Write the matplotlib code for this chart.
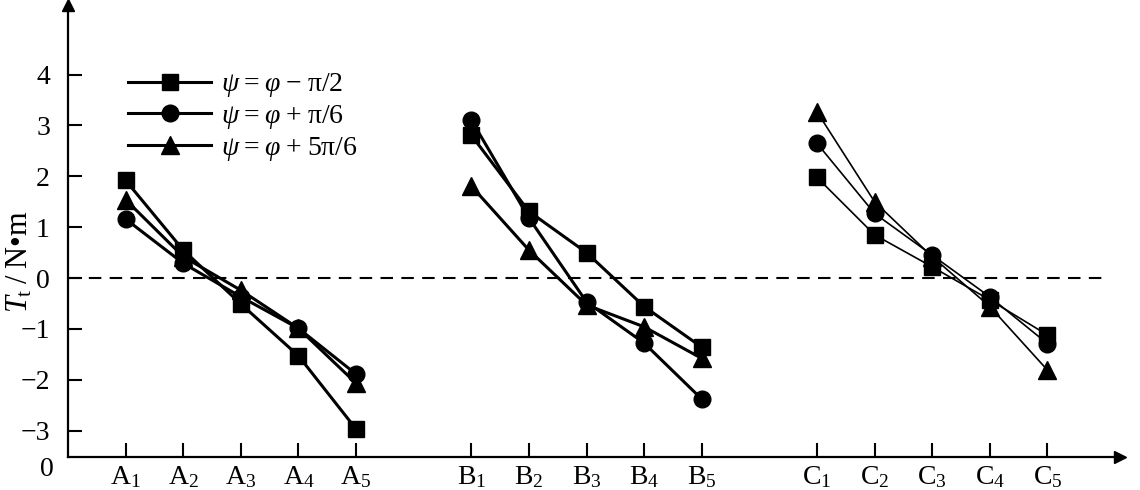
import numpy as np
import matplotlib.pyplot as plt

plt.rcParams['font.family'] = ['Liberation Serif', 'DejaVu Serif']
plt.rcParams['mathtext.fontset'] = 'custom'
plt.rcParams['mathtext.rm'] = 'Liberation Serif'
plt.rcParams['mathtext.it'] = 'Liberation Serif:italic'

# categories, each group is drawn as its own polyline
groups = ['A', 'B', 'C']
group_pos = [[1, 2, 3, 4, 5], [7, 8, 9, 10, 11], [13, 14, 15, 16, 17]]
tick_labels = [g + '$_{%d}$' % i for g in groups for i in range(1, 6)]

# T_t values (N·m)
sq = [[1.92, 0.55, -0.51, -1.53, -2.97],
      [2.81, 1.31, 0.50, -0.56, -1.36],
      [1.98, 0.85, 0.22, -0.43, -1.12]]
ci = [[1.16, 0.29, -0.37, -0.99, -1.89],
      [3.11, 1.18, -0.47, -1.28, -2.38],
      [2.65, 1.27, 0.45, -0.37, -1.29]]
tr = [[1.54, 0.42, -0.24, -0.99, -2.07],
      [1.81, 0.55, -0.53, -0.96, -1.58],
      [3.27, 1.50, 0.42, -0.56, -1.81]]
ts = '\u2009'
labels = [r'$\psi$' + ts + '=' + ts + r'$\varphi$' + ts + '\u2212' + ts + 'π/2',
          r'$\psi$' + ts + '=' + ts + r'$\varphi$' + ts + '+' + ts + 'π/6',
          r'$\psi$' + ts + '=' + ts + r'$\varphi$' + ts + '+' + ts + '5π/6']
group_lw = [2.2, 2.2, 1.2]

fig = plt.figure(figsize=(11.4, 4.9), dpi=100)
ax = fig.add_axes([68/1140, 33/490, 1052/1140, 452/490])
ax.set_xlim(0, 18.26)
ax.set_ylim(-3.52, 5.37)

ax.plot([0, 18.0], [0, 0], color='black', lw=1.5, ls=(0, (6, 4)))

for data, m, ms, lab in [(sq, 's', 12, labels[0]), (ci, 'o', 12, labels[1]), (tr, '^', 13, labels[2])]:
    for k in range(3):
        ax.plot(group_pos[k], data[k], color='black', marker=m, ms=ms, lw=group_lw[k],
                label=lab if k == 0 else None)

leg = ax.legend(loc='upper left', bbox_to_anchor=(0.057, 0.853), frameon=False, fontsize=20,
                handlelength=3.0, handletextpad=0.36, labelspacing=0.13, borderpad=0,
                borderaxespad=0)

for s in ['top', 'right']:
    ax.spines[s].set_visible(False)
for s in ['left', 'bottom']:
    ax.spines[s].set_linewidth(1.6)

ax.plot(1, 0, '>k', ms=8, transform=ax.transAxes, clip_on=False)
ax.plot(0, 1, '^k', ms=8, transform=ax.transAxes, clip_on=False)

ax.set_xticks([p for g in group_pos for p in g])
ax.set_xticklabels(tick_labels, fontsize=20)
ax.set_yticks([-3, -2, -1, 0, 1, 2, 3, 4])
ax.set_yticklabels(['\u22123', '\u22122', '\u22121', '0', '1', '2', '3', '4'], fontsize=20)
ax.tick_params(axis='both', direction='in', length=10, width=1.5)
ax.tick_params(axis='y', pad=13)
ax.tick_params(axis='x', pad=5)

ax.text(-0.25, -3.52, '0', fontsize=20, ha='right', va='top')
fig.text(20/1140, 1 - 262/490, r'$T_{\mathrm{t}}$' + ts + '/' + ts + 'N•m', fontsize=22,
         rotation=90, ha='center', va='center')

fig.savefig('out.png', dpi=100)
